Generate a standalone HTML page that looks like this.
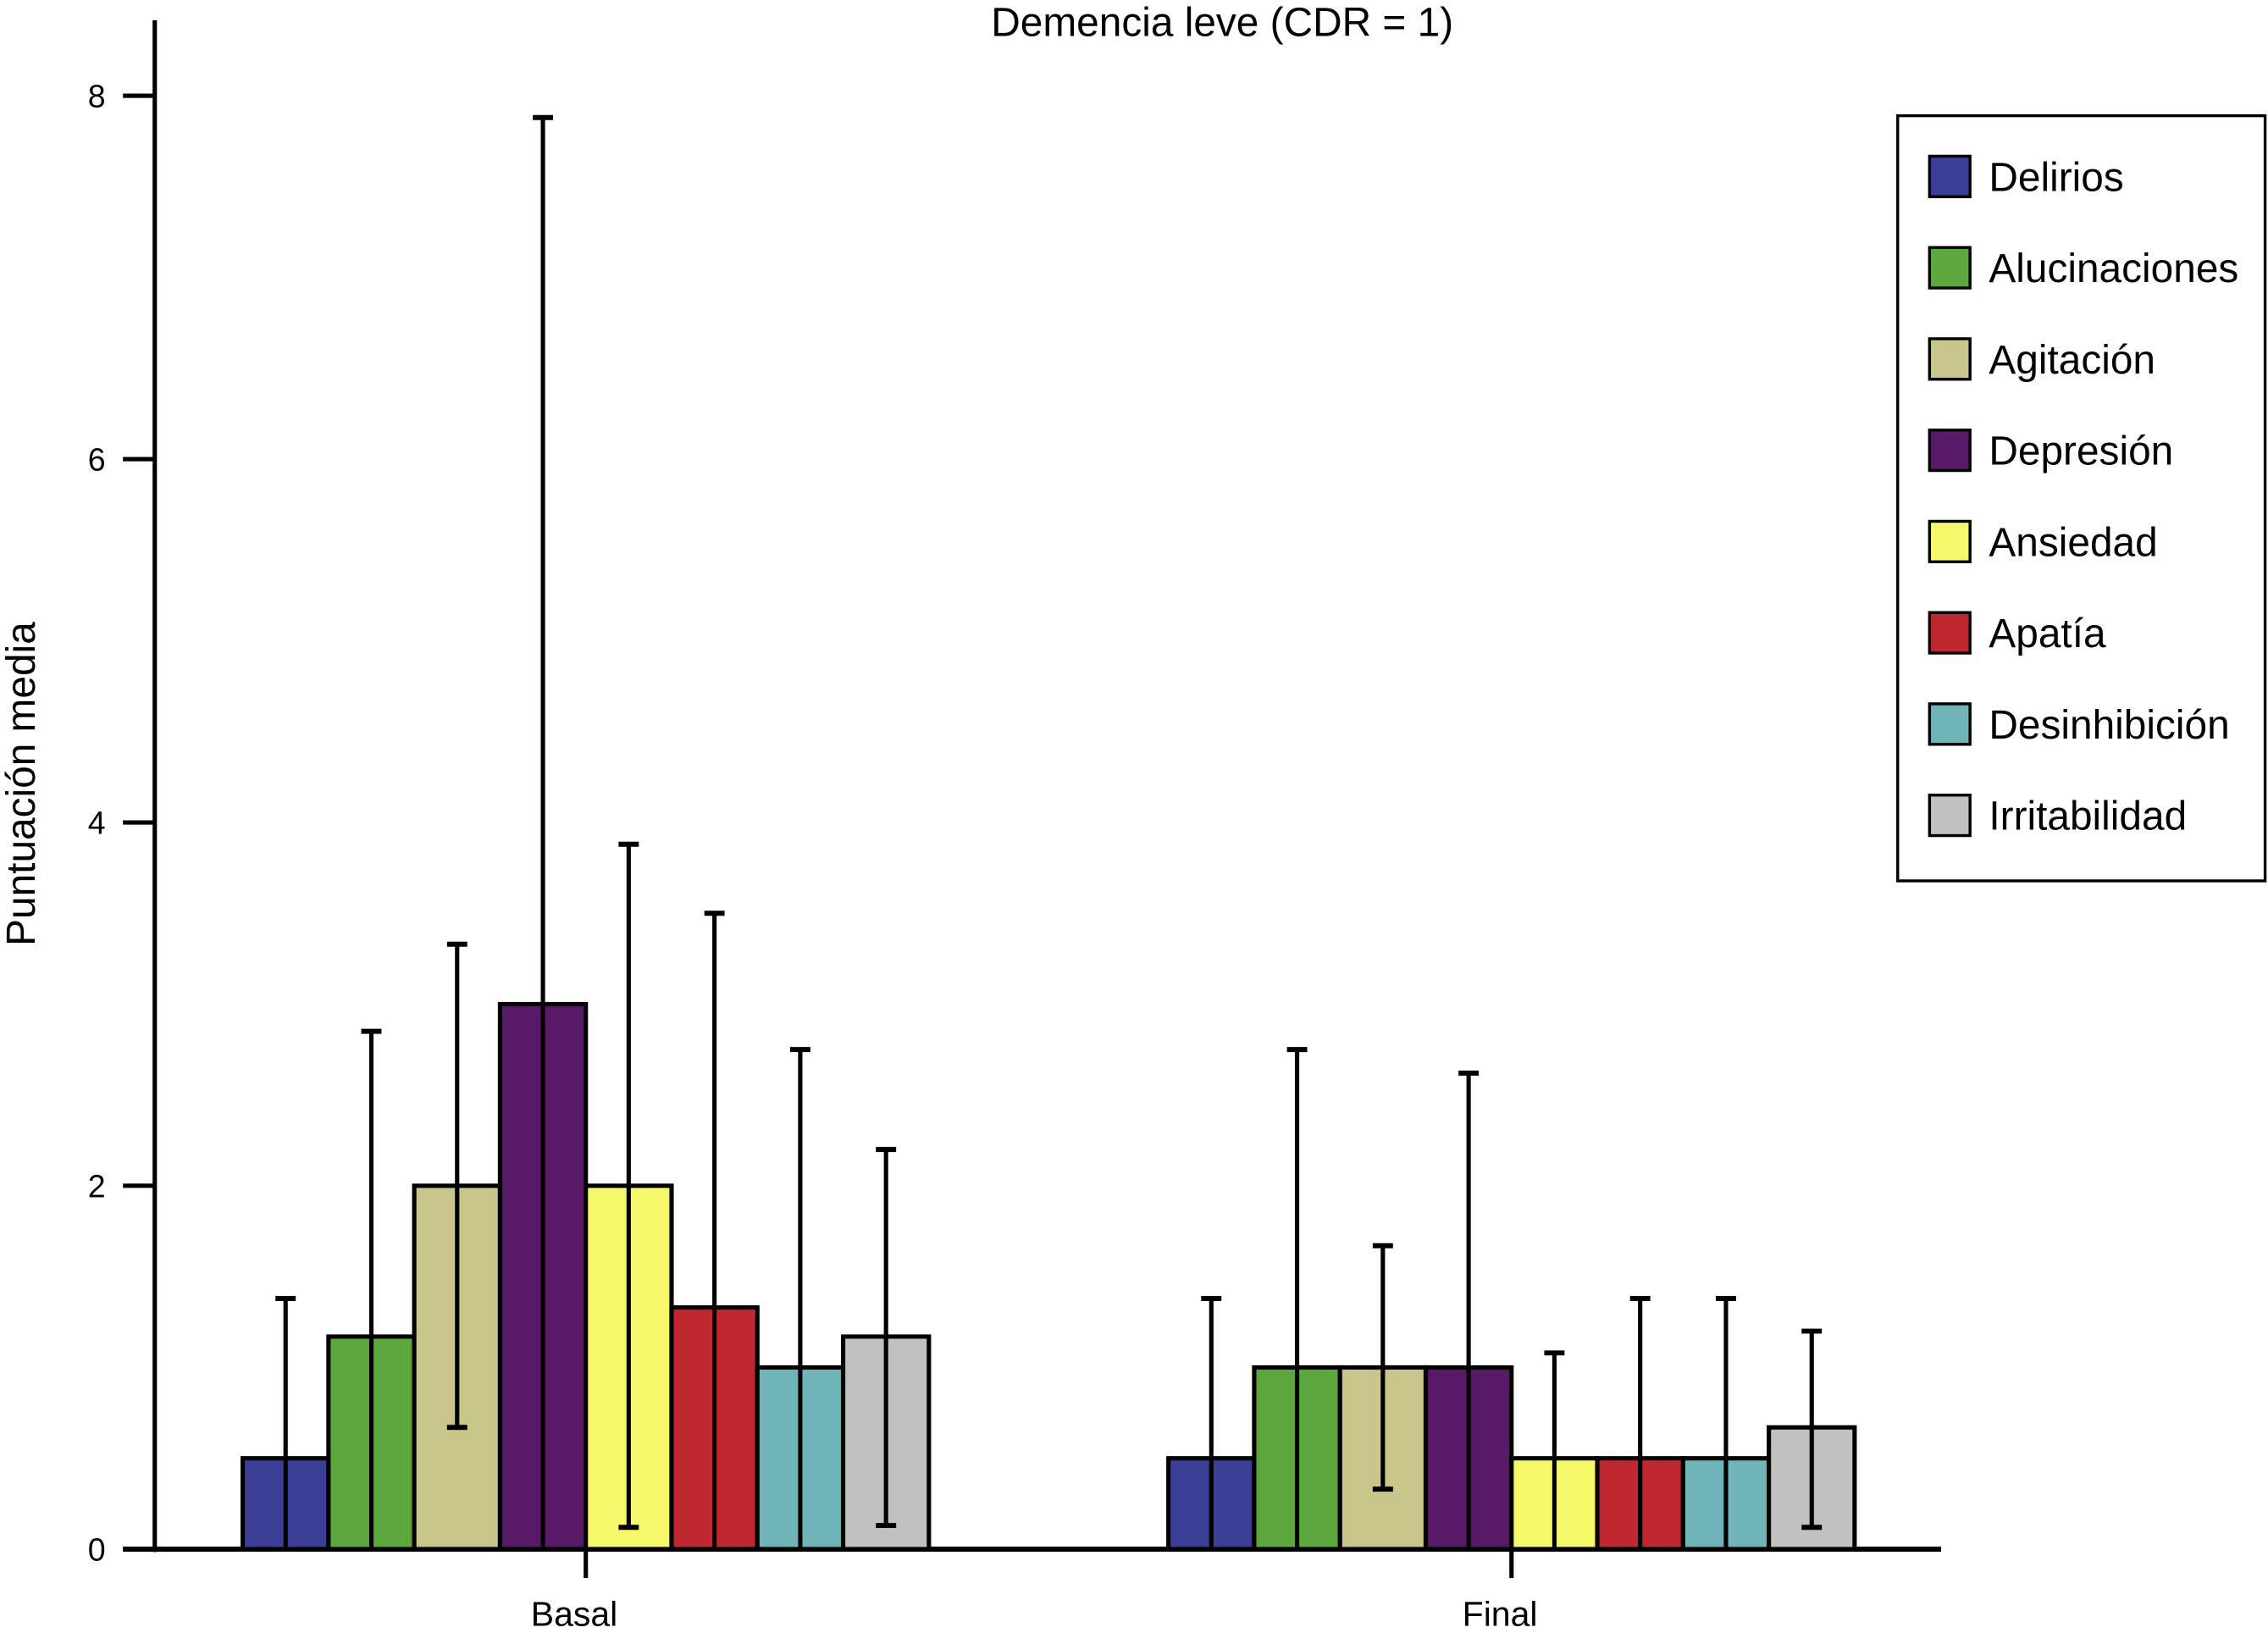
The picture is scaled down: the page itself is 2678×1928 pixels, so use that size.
<!DOCTYPE html>
<html><head><meta charset="utf-8"><style>html,body{margin:0;padding:0;background:#fff}svg{display:block}</style></head>
<body>
<svg id="chart" width="2678" height="1928" viewBox="0 0 1568 1129" preserveAspectRatio="none" xmlns="http://www.w3.org/2000/svg" font-family="Liberation Sans, Arial, sans-serif">
<text x="845" y="25" font-size="28" text-anchor="middle">Demencia leve (CDR = 1)</text>
<text transform="translate(24,542) rotate(-90)" font-size="28" text-anchor="middle">Puntuación media</text>
<g id="plot"></g>
<g id="legend"></g>
</svg>
<script>
const groups = ["Basal", "Final"];
const series = ["Delirios","Alucinaciones","Agitación","Depresión","Ansiedad","Apatía","Desinhibición","Irritabilidad"];
const colors = ["#3b3f98","#5ca83c","#c8c68a","#581a66","#f5f86a","#c0282f","#6fb4b7","#c1c1c1"];
const basalValues = [0.5, 1.17, 2.0, 3.0, 2.0, 1.33, 1.0, 1.17];
const basalUpper = [1.38, 2.85, 3.33, 7.88, 3.88, 3.5, 2.75, 2.2];
const basalLower = [0, 0, 0.67, 0, 0.12, 0, 0, 0.13];
const finalValues = [0.5, 1.0, 1.0, 1.0, 0.5, 0.5, 0.5, 0.67];
const finalUpper = [1.38, 2.75, 1.67, 2.62, 1.08, 1.38, 1.38, 1.2];
const finalLower = [0, 0, 0.33, 0, 0, 0, 0, 0.12];
const yTicks = [0, 2, 4, 6, 8];

const NS = "http://www.w3.org/2000/svg";
const plot = document.getElementById("plot");
const y0 = 1071, yScale = 125.6;
const Y = v => y0 - v * yScale;
const groupCenters = [405, 1045];
const barW = 59.3;
function mk(tag, attrs, parent){const e=document.createElementNS(NS,tag);for(const k in attrs)e.setAttribute(k,attrs[k]);parent.appendChild(e);return e;}

let ax = mk("line",{x1:107,y1:14,x2:107,y2:1073,stroke:"#000","stroke-width":3},plot);


let xx = mk("line",{x1:85,y1:1071,x2:1342,y2:1071,stroke:"#000","stroke-width":3.5},plot);


yTicks.forEach(t=>{
  const tk = mk("line",{x1:85,y1:Y(t),x2:107,y2:Y(t),stroke:"#000","stroke-width":3},plot);
  
  
  const tl = mk("text",{x:73,y:Y(t)+8,"font-size":22,"text-anchor":"end"},plot);
  tl.textContent = t;
  
  
});

const allVals=[basalValues,finalValues], allUp=[basalUpper,finalUpper], allLo=[basalLower,finalLower];
groups.forEach((g,gi)=>{
  const cx = groupCenters[gi];
  const start = cx - barW*4;
  series.forEach((s,i)=>{
    const x = start + i*barW, v = allVals[gi][i];
    const r = mk("rect",{x:x,y:Y(v),width:barW,height:y0-Y(v),fill:colors[i],stroke:"#000","stroke-width":3},plot);
    
    
    const bc = x + barW/2;
    const lo = allLo[gi][i], up = allUp[gi][i];
    const el = mk("line",{x1:bc,y1:Y(lo),x2:bc,y2:Y(up),stroke:"#000","stroke-width":3},plot);
    
    
    const c1 = mk("line",{x1:bc-7,y1:Y(up),x2:bc+7,y2:Y(up),stroke:"#000","stroke-width":3.5},plot);
    
    
    if(lo>0){
      const c2 = mk("line",{x1:bc-7,y1:Y(lo),x2:bc+7,y2:Y(lo),stroke:"#000","stroke-width":3.5},plot);
      
      
    }
  });
  const gt = mk("line",{x1:cx,y1:1071,x2:cx,y2:1091,stroke:"#000","stroke-width":3},plot);
  
  
  const gl = mk("text",{x:cx-8,y:1124,"font-size":24,"text-anchor":"middle"},plot);
  gl.textContent = g;
  
  
});

const leg = document.getElementById("legend");
const box = mk("rect",{x:1312,y:80,width:254,height:529,fill:"#fff",stroke:"#000","stroke-width":2},leg);


series.forEach((s,i)=>{
  const cy = 122 + i*63.1;
  const sw = mk("rect",{x:1334,y:cy-14,width:28,height:28,fill:colors[i],stroke:"#000","stroke-width":2},leg);
  
  
  const t = mk("text",{x:1375,y:cy+10,"font-size":28},leg);
  t.textContent = s;
  
  
});
</script>
</body></html>
